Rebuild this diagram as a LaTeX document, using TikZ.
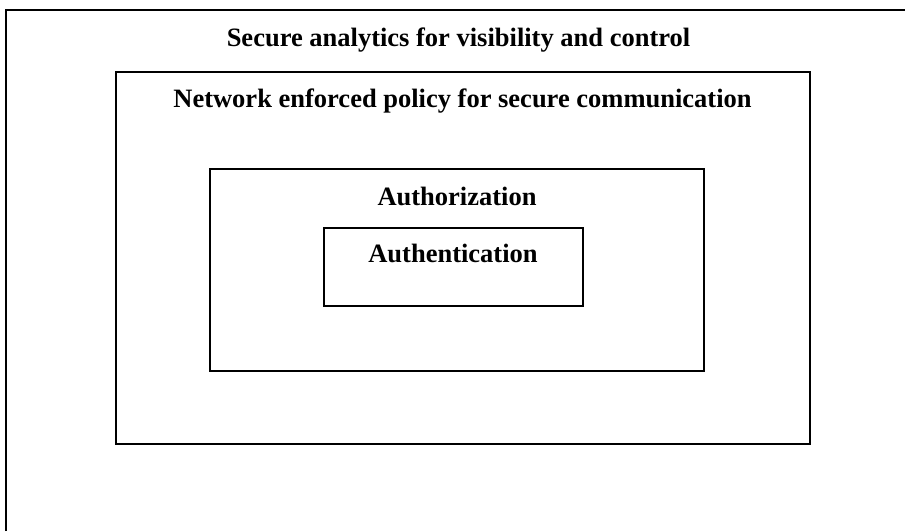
\documentclass[tikz,border=0pt]{standalone}
\usepackage{fontspec}
\setmainfont{Liberation Serif}
\usetikzlibrary{positioning}

\begin{document}
\begin{tikzpicture}[
x=1pt, y=-1pt,
frame/.style={draw, line width=2.4pt},
layer/.style={rectangle, draw, line width=2.4pt, inner sep=0pt},
title/.style={anchor=base, inner sep=0pt, font=\bfseries\fontsize{26.5}{30}\selectfont}]
\useasboundingbox (0,0) rectangle (905,531);
% outer frame runs off the right and bottom edges
\coordinate (outer) at (6,531);
\draw [frame] (outer) |- (905,10);
\node [title] (analytics) at (458.5,46) {Secure analytics for visibility and control};
\node [layer, minimum width=694pt, minimum height=372pt] (net) at (463,258) {};
\node [title] (policy) at (462.5,107) {Network enforced policy for secure communication};
\node [layer, minimum width=494pt, minimum height=202pt] (authz) at (457,270) {};
\node [title] (authzlabel) at (457,205) {Authorization};
\node [layer, minimum width=259pt, minimum height=78pt] (authn) at (453.5,267) {};
\node [title] (authnlabel) at (453,262) {Authentication};
\end{tikzpicture}
\end{document}
